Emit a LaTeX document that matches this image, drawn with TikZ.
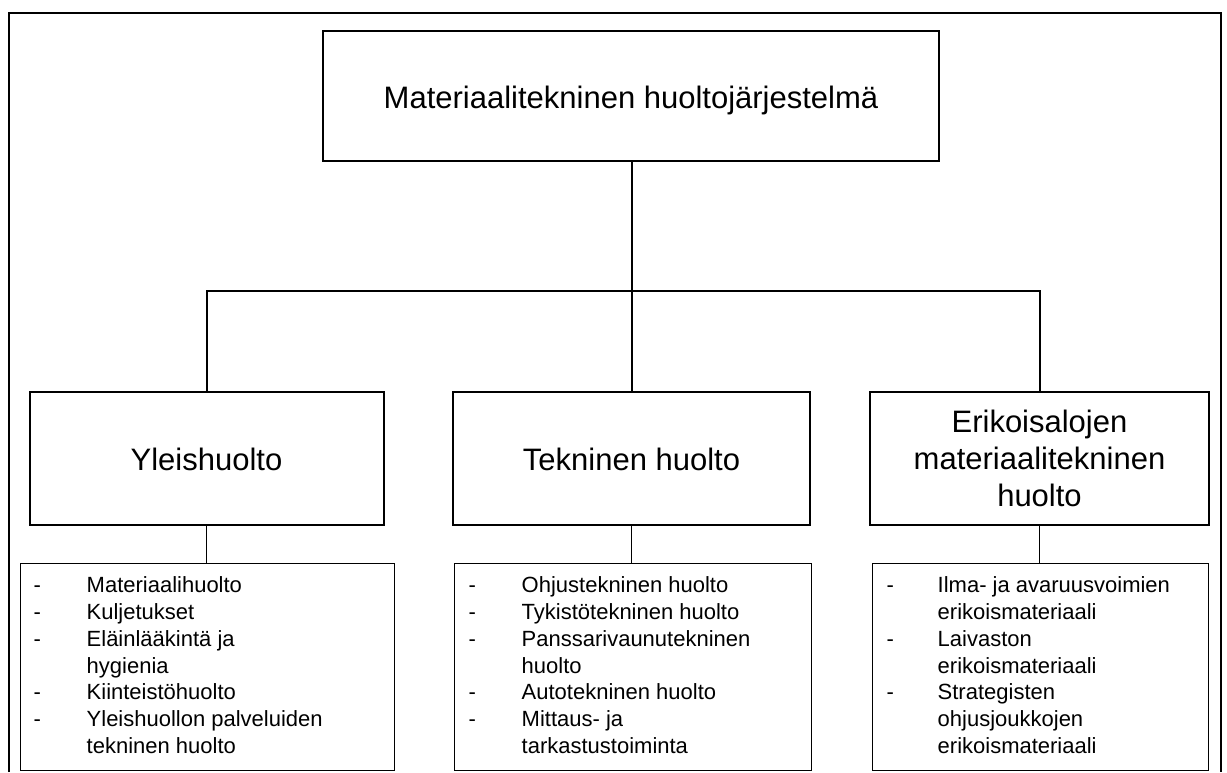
\documentclass[tikz,border=0pt]{standalone}
\usepackage{fontspec}
\setmainfont{Liberation Sans}
\begin{document}
\begin{tikzpicture}[x=1pt,y=-1pt,
  bigbox/.style={draw,line width=2pt,inner sep=0pt,font=\fontsize{31}{37}\selectfont},
  onebox/.style={bigbox,text height=24pt,text depth=0pt},
  listbox/.style={draw,line width=1pt,inner sep=0pt,minimum height=207.5pt},
  listtext/.style={anchor=north west,inner sep=0pt,font=\fontsize{22}{26.8}\selectfont},
  thickline/.style={line width=2pt},
  thinline/.style={line width=1pt}]
\useasboundingbox (0,0) rectangle (1227,772);
% outer frame (open at bottom)
\draw[line width=1.3pt] (9,772) -- (9,13) -- (1221,13) -- (1221,772);
% top box
\node[onebox,minimum width=616pt,minimum height=130pt] (top) at (631,96) {Materiaalitekninen huoltojärjestelmä};
% middle boxes
\node[onebox,minimum width=354pt,minimum height=133pt] (y) at (206.5,458.5) {Yleishuolto};
\node[onebox,minimum width=357pt,minimum height=133pt] (t) at (631.5,458.5) {Tekninen huolto};
\node[bigbox,align=center,minimum width=339pt,minimum height=133pt] (e) at (1039.5,458.5) {Erikoisalojen\\materiaalitekninen\\huolto};
% connectors
\coordinate (j) at (631.5,291);
\draw[thickline] (top.south -| t.north) -- (t.north);
\draw[thickline] (y.north) -- (y.north |- j) -- (e.north |- j) -- (e.north);
% lower boxes
\node[listbox,minimum width=374pt] (ly) at (207,666.75) {};
\node[listbox,minimum width=357pt] (lt) at (632.5,666.75) {};
\node[listbox,minimum width=336pt] (le) at (1040,666.75) {};
\draw[thinline] (y.south) -- (y.south |- ly.north);
\draw[thinline] (t.south) -- (t.south |- lt.north);
\draw[thinline] (e.south) -- (e.south |- le.north);
% list texts
\node[listtext] (lyt) at ([shift={(14,11.2)}]ly.north west) {%
\begin{tabular}{@{}p{53pt}@{}l@{}}
-&Materiaalihuolto\\
-&Kuljetukset\\
-&Eläinlääkintä ja\\
&hygienia\\
-&Kiinteistöhuolto\\
-&Yleishuollon palveluiden\\
&tekninen huolto
\end{tabular}};
\node[listtext] (ltt) at ([shift={(15,11.2)}]lt.north west) {%
\begin{tabular}{@{}p{53pt}@{}l@{}}
-&Ohjustekninen huolto\\
-&Tykistötekninen huolto\\
-&Panssarivaunutekninen\\
&huolto\\
-&Autotekninen huolto\\
-&Mittaus- ja\\
&tarkastustoiminta
\end{tabular}};
\node[listtext] (let) at ([shift={(15,11.2)}]le.north west) {%
\begin{tabular}{@{}p{51pt}@{}l@{}}
-&Ilma- ja avaruusvoimien\\
&erikoismateriaali\\
-&Laivaston\\
&erikoismateriaali\\
-&Strategisten\\
&ohjusjoukkojen\\
&erikoismateriaali
\end{tabular}};
\end{tikzpicture}
\end{document}
